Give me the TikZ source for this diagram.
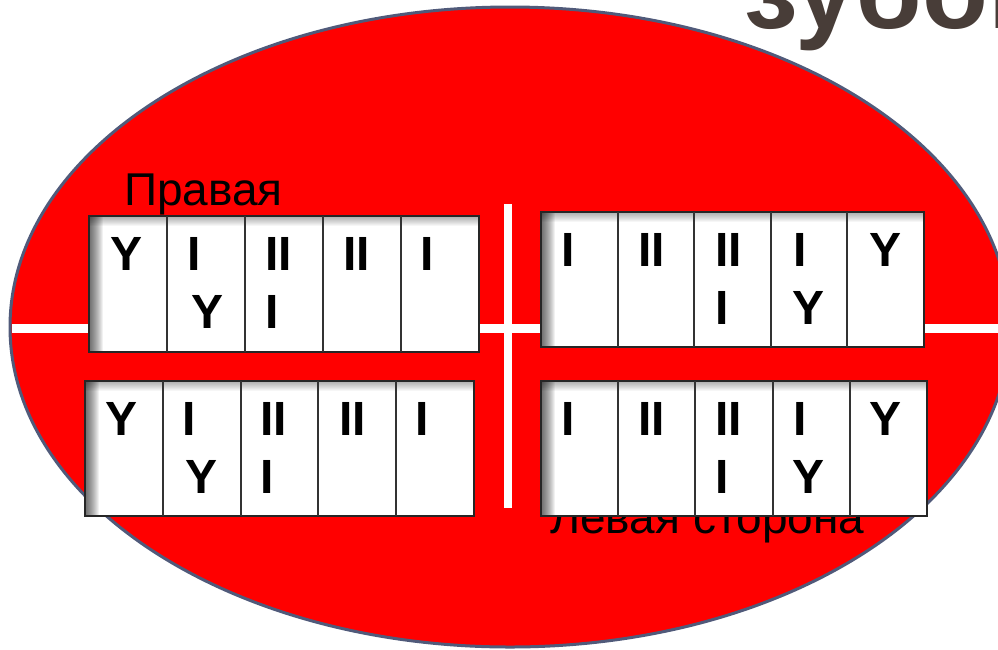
\documentclass[tikz,border=0pt]{standalone}
\usepackage{fontspec}
\setmainfont{Liberation Sans}
\usetikzlibrary{calc}

\definecolor{rim}{RGB}{80,90,122}
\definecolor{titlegray}{RGB}{72,61,56}

\begin{document}
\begin{tikzpicture}[x=1pt, y=-1pt,
  jaw/.style={draw=black!85, line width=2.5pt, fill=white, anchor=north west,
    inner sep=0pt, outer sep=0pt, minimum height=136pt,
    path picture={
      \foreach \s in {1,...,10}
        \fill[black, opacity=0.035] (path picture bounding box.north west)
          rectangle ([yshift=-\s pt]path picture bounding box.north east);
      \foreach \s in {1,...,14}
        \fill[black, opacity=0.055] (path picture bounding box.north west)
          rectangle ([xshift=\s pt]path picture bounding box.south west);
    }},
  divider/.style={black!80, line width=2pt},
  tooth/.style={anchor=base west, inner sep=0pt, font=\fontsize{48}{48}\selectfont\bfseries},
  side/.style={anchor=base west, inner sep=0pt, font=\fontsize{46}{46}\selectfont}]

  \useasboundingbox (0,0) rectangle (998,649);
  \clip (0,0) rectangle (998,649);

  % Red oval
  \draw[rim, line width=3pt, fill=red] (510,327) ellipse [x radius=500, y radius=320];

  % White cross
  \draw[white, line width=9pt] (12,328) -- (998,328);
  \draw[white, line width=8pt] (507.5,204) -- (507.5,508);

  % Side label (partly under the lower table)
  \node[side] (levaya) at (550,533) {Левая сторона};

  % Upper jaw
  \node[jaw, minimum width=390pt] (rightup) at (89,216) {};
  \node[jaw, minimum width=383pt, minimum height=135pt] (leftup) at (541,212) {};

  % Lower jaw
  \node[jaw, minimum width=389pt, minimum height=135pt] (rightdown) at (85,381) {};
  \node[jaw, minimum width=386pt, minimum height=135pt] (leftdown) at (541,381) {};

  % Cell borders
  \foreach \j in {rightup,leftup,rightdown,leftdown}
    \foreach \k in {1,...,4}
      \draw[divider] ($(\j.north west)!\k/5!(\j.north east)$) -- ($(\j.south west)!\k/5!(\j.south east)$);

  % Teeth marks
  \foreach \nm/\dx/\dy/\txt in {1/21/54/Y, 2a/98/54/I, 2b/102/112/Y, 3a/176/54/II, 3b/176/112/I, 4/254/54/II, 5/331/54/I}
    \node[tooth] (rightup\nm) at ($(rightup.north west)+(\dx,\dy)$) {\txt};
  \foreach \nm/\dx/\dy/\txt in {1/20/54/Y, 2a/97/54/I, 2b/100/112/Y, 3a/175/54/II, 3b/175/112/I, 4/254/54/II, 5/330/54/I}
    \node[tooth] (rightdown\nm) at ($(rightdown.north west)+(\dx,\dy)$) {\txt};
  \foreach \nm/\dx/\dy/\txt in {1/20/54/I, 2/97/54/II, 3a/174/54/II, 3b/174/112/I, 4a/252/54/I, 4b/251/112/Y, 5/328/54/Y}
    \node[tooth] (leftup\nm) at ($(leftup.north west)+(\dx,\dy)$) {\txt};
  \foreach \nm/\dx/\dy/\txt in {1/20/54/I, 2/97/54/II, 3a/174/54/II, 3b/174/112/I, 4a/252/54/I, 4b/251/112/Y, 5/328/54/Y}
    \node[tooth] (leftdown\nm) at ($(leftdown.north west)+(\dx,\dy)$) {\txt};

  % Side label (upper)
  \node[side] (pravaya) at (124,205) {Правая};

  % Title, cut off by the frame
  \node[anchor=base west, inner sep=0pt, text=titlegray,
    font=\fontsize{108}{108}\selectfont\bfseries] (zubov) at (744,28) {зубов};

\end{tikzpicture}
\end{document}
